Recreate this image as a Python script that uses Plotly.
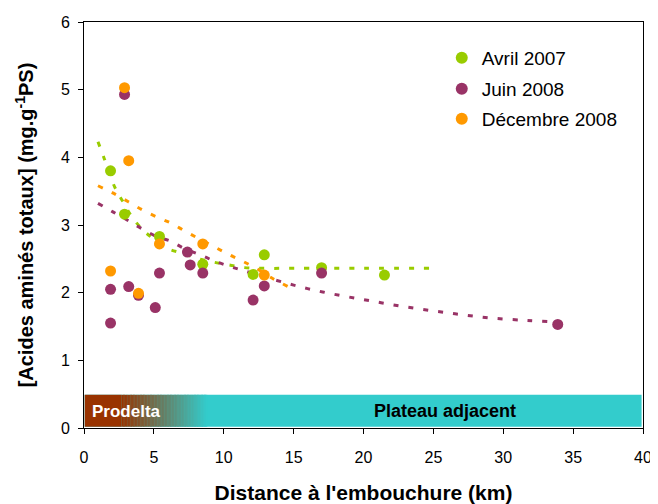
import plotly.graph_objects as go

# ---- data ----
avril_x = [1.9, 2.9, 5.4, 8.5, 12.1, 12.9, 17.0, 21.5]
avril_y = [3.80, 3.16, 2.83, 2.42, 2.27, 2.56, 2.37, 2.26]

juin_x = [2.9, 1.9, 1.9, 3.2, 3.9, 5.1, 5.4, 7.4, 7.6, 8.5, 12.1, 12.9, 17.0, 33.9]
juin_y = [4.93, 2.05, 1.55, 2.09, 1.96, 1.78, 2.29, 2.60, 2.41, 2.29, 1.89, 2.10, 2.29, 1.53]

dec_x = [2.9, 3.2, 1.9, 3.9, 5.4, 8.5, 12.9]
dec_y = [5.03, 3.95, 2.32, 1.99, 2.72, 2.72, 2.26]

# trend lines
avril_tx = [1.0, 1.4, 2.2, 2.8, 3.3, 4.1, 5.0, 6.0, 7.1, 8.2, 9.3, 10.4, 11.5, 12.6, 15.0, 20.0, 25.0]
avril_ty = [4.23, 4.01, 3.56, 3.34, 3.16, 2.95, 2.79, 2.65, 2.58, 2.50, 2.45, 2.41, 2.37, 2.36, 2.36, 2.36, 2.36]

juin_tx = [1.0, 2.1, 3.2, 4.1, 5.2, 6.2, 7.2, 8.3, 9.3, 10.4, 11.5, 13.8, 16.0, 18.3, 20.5, 22.7, 25.0, 27.2, 29.4, 31.7, 33.4]
juin_ty = [3.32, 3.19, 3.06, 2.95, 2.83, 2.76, 2.65, 2.56, 2.47, 2.39, 2.32, 2.18, 2.06, 1.96, 1.88, 1.80, 1.73, 1.67, 1.62, 1.59, 1.57]

dec_tx = [1.0, 2.1, 3.2, 4.2, 5.3, 6.3, 7.3, 8.3, 9.4, 10.4, 11.4, 12.4, 13.5, 14.7]
dec_ty = [3.58, 3.47, 3.34, 3.22, 3.11, 3.02, 2.90, 2.79, 2.67, 2.56, 2.46, 2.35, 2.21, 2.08]

x_ticks = [0, 5, 10, 15, 20, 25, 30, 35, 40]
y_ticks = [0, 1, 2, 3, 4, 5, 6]

GREEN = "#99CC00"
PURPLE = "#993366"
ORANGE = "#FF9900"
FONT = "Liberation Sans, Arial, sans-serif"

fig = go.Figure()

# trend lines
for tx, ty, c in [(avril_tx, avril_ty, GREEN), (dec_tx, dec_ty, ORANGE), (juin_tx, juin_ty, PURPLE)]:
    fig.add_trace(go.Scatter(x=tx, y=ty, mode="lines", showlegend=False, hoverinfo="skip",
                             line=dict(color=c, width=3, dash="5px,10px", shape="spline")))

# points (one legend box per series so the rows can be spaced like the original)
for xs, ys, c, name, leg in [(avril_x, avril_y, GREEN, "Avril 2007", "legend"),
                             (juin_x, juin_y, PURPLE, "Juin 2008", "legend2"),
                             (dec_x, dec_y, ORANGE, "Décembre 2008", "legend3")]:
    fig.add_trace(go.Scatter(x=xs, y=ys, mode="markers", name=name, legend=leg,
                             marker=dict(color=c, size=11, line=dict(width=0))))

# band at the bottom: brown -> teal gradient
shapes = []
b0, b1 = 0.02, 0.49
brown = (153, 51, 0)
teal = (51, 204, 204)
shapes.append(dict(type="rect", xref="x", yref="y", x0=0.05, x1=39.9, y0=b0, y1=b1,
                   fillcolor="rgb(51,204,204)", line=dict(width=0), layer="below"))
shapes.append(dict(type="rect", xref="x", yref="y", x0=0.05, x1=2.7, y0=b0, y1=b1,
                   fillcolor="rgb(153,51,0)", line=dict(width=0), layer="below"))
g0, g1, n = 2.7, 8.8, 60
for i in range(n):
    t = (i + 0.5) / n
    col = tuple(int(round(brown[k] + (teal[k] - brown[k]) * t)) for k in range(3))
    shapes.append(dict(type="rect", xref="x", yref="y",
                       x0=g0 + (g1 - g0) * i / n, x1=g0 + (g1 - g0) * (i + 1) / n + 0.02,
                       y0=b0, y1=b1, fillcolor="rgb(%d,%d,%d)" % col,
                       line=dict(width=0), layer="below"))

leg_common = dict(xanchor="left", yanchor="middle", bgcolor="rgba(0,0,0,0)",
                  font=dict(size=19, family=FONT), itemsizing="constant", itemwidth=30)

fig.update_layout(
    width=650, height=496,
    margin=dict(l=76, r=15, t=14, b=76, autoexpand=False),
    paper_bgcolor="white", plot_bgcolor="white",
    font=dict(family=FONT, size=16, color="black"),
    shapes=shapes,
    showlegend=True,
    legend=dict(x=0.640, y=(428 - 58) / 406, **leg_common),
    legend2=dict(x=0.640, y=(428 - 89) / 406, **leg_common),
    legend3=dict(x=0.640, y=(428 - 119) / 406, **leg_common),
    annotations=[
        dict(x=0.4, y=0.25, xref="x", yref="y", text="<b>Prodelta</b>", showarrow=False,
             xanchor="left", font=dict(size=17, color="white", family=FONT)),
        dict(x=25.8, y=0.25, xref="x", yref="y", text="<b>Plateau adjacent</b>", showarrow=False,
             xanchor="center", font=dict(size=18, color="black", family=FONT)),
    ],
)

fig.update_xaxes(range=[0, 40], tickvals=x_ticks, ticks="outside", ticklen=5, tickcolor="black",
                 showline=True, linecolor="black", linewidth=1, mirror=True, showgrid=False,
                 zeroline=False, tickfont=dict(size=16), automargin=False, ticklabelstandoff=10,
                 title=dict(text="<b>Distance à l'embouchure (km)</b>", font=dict(size=21), standoff=28))
fig.update_yaxes(range=[0, 6], tickvals=y_ticks, ticks="outside", ticklen=5, tickcolor="black",
                 showline=True, linecolor="black", linewidth=1, mirror=True, showgrid=False,
                 zeroline=False, tickfont=dict(size=16), automargin=False, ticklabelstandoff=5,
                 title=dict(text="<b>[Acides aminés totaux] (mg.g<sup>-1</sup>PS)</b>", font=dict(size=20), standoff=21))

fig.write_html("out.html")
